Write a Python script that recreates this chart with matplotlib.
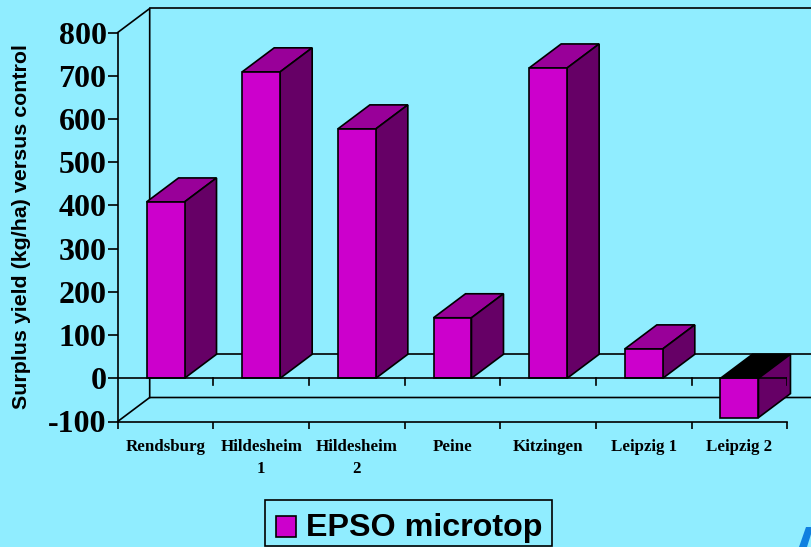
import matplotlib
matplotlib.use('Agg')
import matplotlib.pyplot as plt
from matplotlib.patches import Polygon, Rectangle

categories = ['Rendsburg', 'Hildesheim\n1', 'Hildesheim\n2', 'Peine', 'Kitzingen', 'Leipzig 1', 'Leipzig 2']
values = [408, 709, 577, 140, 718, 68, -91]
y_ticks = [-100, 0, 100, 200, 300, 400, 500, 600, 700, 800]

BG = '#90EDFF'
FRONT = '#CC00CC'
TOP = '#990099'
SIDE = '#660066'
W, H = 812, 547

plt.rcParams['font.family'] = ['Liberation Serif', 'DejaVu Serif']

fig = plt.figure(figsize=(W / 100, H / 100), dpi=100, facecolor=BG)
ax = fig.add_axes([117.7 / W, 1 - 421.5 / H, 669.6 / W, 389 / H])
ax.set_facecolor('none')
ax.set_xlim(0, 7)
ax.set_ylim(-100, 800)

# 3d depth offset, in data units
dx = 32 / (669.6 / 7)
dy = 24 / (389 / 900)

for s in ['top', 'right']:
    ax.spines[s].set_visible(False)
for s in ['left', 'bottom']:
    ax.spines[s].set_linewidth(1.2)

# back wall and floor
wall = dict(color='black', lw=1.2, clip_on=False, zorder=1)
ax.plot([0, dx, dx], [800, 800 + dy, -100 + dy], **wall)
ax.plot([dx, 7.3], [800 + dy, 800 + dy], **wall)
ax.plot([0, dx, 7.3], [-100, -100 + dy, -100 + dy], **wall)
ax.plot([dx, 7.3], [dy, dy], **wall)

# bars
bar_w = 0.397
xs = [i + 0.5 for i in range(len(values))]
ax.bar(xs, values, width=bar_w, color=FRONT, edgecolor='black', linewidth=1.2, zorder=3)
for x, v in zip(xs, values):
    l, r = x - bar_w / 2, x + bar_w / 2
    hi = max(v, 0)
    lo = min(v, 0)
    top_col = 'black' if v < 0 else TOP
    ax.add_patch(Polygon([(l, hi), (r, hi), (r + dx, hi + dy), (l + dx, hi + dy)],
                         facecolor=top_col, edgecolor='black', lw=1.2, zorder=2, clip_on=False))
    ax.add_patch(Polygon([(r, lo), (r + dx, lo + dy), (r + dx, hi + dy), (r, hi)],
                         facecolor=SIDE, edgecolor='black', lw=1.2, zorder=2, clip_on=False))

# zero line with its ticks
ax.plot([0, 7], [0, 0], color='black', lw=1.2, zorder=4)
for i in range(1, 8):
    ax.plot([i, i], [0, -16], color='black', lw=1.2, zorder=4)

ax.set_xticks(range(8), minor=True)
ax.tick_params(axis='x', which='minor', direction='out', length=5, width=1.2)
ax.set_xticks(xs)
ax.set_xticklabels(categories, fontsize=12.2, fontweight='bold', linespacing=1.5)
ax.tick_params(axis='x', which='major', length=0, pad=12.5)
ax.set_yticks(y_ticks)
ax.set_yticklabels(y_ticks, fontsize=23, fontweight='bold')
ax.tick_params(axis='y', direction='out', length=7, width=1.2, pad=1)

fig.text(21.5 / W, 1 - 226.5 / H, 'Surplus yield (kg/ha) versus control', rotation=90,
         ha='center', va='center', fontsize=15.4, fontweight='bold', family='Liberation Sans')

# legend box
fig.add_artist(Rectangle((265 / W, 1 - 546 / H), 287 / W, 46 / H, transform=fig.transFigure,
                         facecolor='none', edgecolor='black', lw=1.2))
fig.add_artist(Rectangle((275.5 / W, 1 - 536.5 / H), 20.5 / W, 20.5 / H, transform=fig.transFigure,
                         facecolor=FRONT, edgecolor='black', lw=1.2))
fig.text(306 / W, 1 - 536 / H, 'EPSO microtop', ha='left', va='baseline',
         fontsize=23.2, fontweight='bold', family='Liberation Sans')

# corner of the logo
fig.add_artist(Polygon([(799 / W, 0), (806 / W, 1 - 527 / H), (812 / W, 1 - 527 / H),
                        (812 / W, 1 - 531 / H), (807 / W, 0)],
                       transform=fig.transFigure, facecolor='#1080E0', edgecolor='none'))

fig.savefig('out.png', dpi=100, facecolor=BG)
